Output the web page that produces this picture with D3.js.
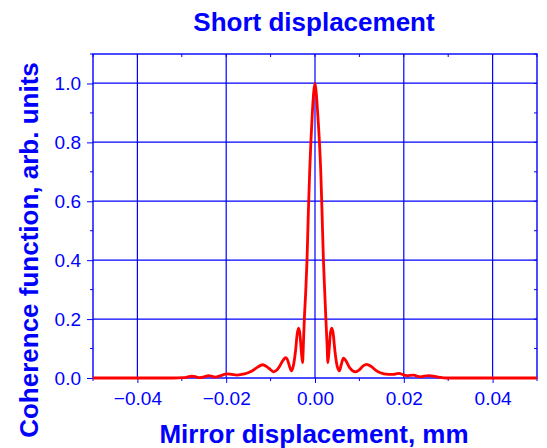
<!DOCTYPE html>
<html>
<head>
<meta charset="utf-8">
<script src="https://cdn.jsdelivr.net/npm/d3@7"></script>
<style>
body { margin: 0; background: #fff; }
text { font-family: Arial, "Liberation Sans", sans-serif; }
</style>
</head>
<body>
<div id="chart"></div>
<script>
// mirror displacement (mm) and coherence
var displacement = [
    -0.050, -0.040, -0.0320, -0.0297, -0.0288, -0.0278, -0.0268, -0.0259, -0.0250, -0.0240,
    -0.0233, -0.0225, -0.0212, -0.0199, -0.0188, -0.0176, -0.0165, -0.0154, -0.0142, -0.0130,
    -0.0118, -0.0108, -0.0100, -0.0093, -0.0082, -0.0072, -0.0066, -0.0061, -0.0057, -0.0053,
    -0.0049, -0.0044, -0.0040, -0.0037, -0.0034, -0.0031, -0.0028, -0.0026, -0.0024, -0.0021,
    -0.0018, -0.0015, -0.0012, -0.0009, -0.0006, -0.0003, 0.0000, 0.0003, 0.0006, 0.0010,
    0.0013, 0.00155, 0.0019, 0.0022, 0.00245, 0.0027, 0.0029, 0.0032, 0.0035, 0.0038,
    0.0041, 0.0045, 0.0050, 0.0055, 0.0059, 0.0064, 0.0069, 0.0078, 0.0091, 0.0100,
    0.0108, 0.0116, 0.0126, 0.0138, 0.0147, 0.0165, 0.0176, 0.0188, 0.0207, 0.0222,
    0.0237, 0.0256, 0.0278, 0.0295, 0.0320, 0.040, 0.050
]
var coherence = [
    0.000, 0.000, 0.000, 0.001, 0.003, 0.006, 0.004, 0.001, 0.004, 0.008,
    0.006, 0.003, 0.008, 0.014, 0.012, 0.010, 0.012, 0.016, 0.024, 0.036,
    0.045, 0.038, 0.028, 0.021, 0.034, 0.060, 0.069, 0.058, 0.038, 0.024,
    0.040, 0.090, 0.150, 0.169, 0.150, 0.095, 0.052, 0.120, 0.200, 0.290,
    0.400, 0.560, 0.700, 0.810, 0.900, 0.970, 1.000, 0.965, 0.900, 0.800,
    0.700, 0.580, 0.400, 0.290, 0.200, 0.120, 0.052, 0.100, 0.155, 0.169,
    0.150, 0.090, 0.040, 0.024, 0.045, 0.067, 0.060, 0.035, 0.021, 0.028,
    0.040, 0.046, 0.040, 0.025, 0.018, 0.0125, 0.012, 0.016, 0.008, 0.010,
    0.004, 0.008, 0.003, 0.000, 0.000, 0.000, 0.000
]
var xTicks = [-0.04, -0.02, 0, 0.02, 0.04]
var xMinor = [-0.05, -0.03, -0.01, 0.01, 0.03, 0.05]
var yTicks = [0, 0.2, 0.4, 0.6, 0.8, 1.0]
var yMinor = [0.1, 0.3, 0.5, 0.7, 0.9, 1.1]

var width = 547, height = 448
var margin = {top: 54, right: 10, bottom: 70, left: 93}
var blue = "#0000ff"

var svg = d3.select("#chart")
    .append("svg")
    .attr("width", width)
    .attr("height", height)

var x = d3.scaleLinear()
    .domain([-0.05, 0.05])
    .range([margin.left, width - margin.right])

var y = d3.scaleLinear()
    .domain([0, 1.1])
    .range([height - margin.bottom, margin.top])

var x0 = x.range()[0], x1 = x.range()[1]
var y0 = y.range()[0], y1 = y.range()[1]

// grid
var grid = svg.append("g")
grid.selectAll(".vg")
    .data(xTicks)
    .enter().append("line")
    .attr("x1", d => x(d))
    .attr("x2", d => x(d))
    .attr("y1", y1)
    .attr("y2", y0)
    .style("stroke", blue)
    .style("stroke-width", 1.2)
grid.selectAll(".hg")
    .data(yTicks.slice(1))
    .enter().append("line")
    .attr("y1", d => Math.round(y(d)) + 0.2)
    .attr("y2", d => Math.round(y(d)) + 0.2)
    .attr("x1", x0)
    .attr("x2", x1)
    .style("stroke", blue)
    .style("stroke-width", 1.2)

// axes
var xAxis = svg.append("g")
    .attr("transform", `translate(0,${y0})`)
    .call(d3.axisBottom(x).tickValues(xTicks).tickSize(5).tickPadding(9).tickFormat(d3.format(".2f")))
var yAxis = svg.append("g")
    .attr("transform", `translate(${x0},0)`)
    .call(d3.axisLeft(y).tickValues(yTicks).tickSize(6).tickPadding(6).tickFormat(d3.format(".1f")))

;[xAxis, yAxis].forEach(a => {
    a.select(".domain").remove()
    a.selectAll("line").style("stroke", blue)
    a.selectAll("text")
        .attr("fill", blue)
        .style("font-size", "19px")
})

// minor ticks: bottom / left outward, top / right inward
var minor = svg.append("g")
minor.selectAll(".mb").data(xMinor).enter().append("line")
    .attr("x1", d => x(d)).attr("x2", d => x(d))
    .attr("y1", y0).attr("y2", y0 + 3)
minor.selectAll(".mt").data(xMinor.concat(xTicks)).enter().append("line")
    .attr("x1", d => x(d)).attr("x2", d => x(d))
    .attr("y1", y1).attr("y2", y1 + 3)
minor.selectAll(".ml").data(yMinor).enter().append("line")
    .attr("y1", d => y(d)).attr("y2", d => y(d))
    .attr("x1", x0).attr("x2", x0 - 3)
minor.selectAll(".mr").data(yMinor.concat(yTicks)).enter().append("line")
    .attr("y1", d => y(d)).attr("y2", d => y(d))
    .attr("x1", x1).attr("x2", x1 - 3)
minor.selectAll("line").style("stroke", blue).style("stroke-width", 1)

// frame
svg.append("rect")
    .attr("x", x0)
    .attr("y", y1)
    .attr("width", x1 - x0)
    .attr("height", y0 - y1)
    .attr("fill", "none")
    .style("stroke", blue)
    .style("stroke-width", 1.4)

// curve
var points = displacement.map((d, i) => [d, coherence[i]])
var line = d3.line()
    .x(d => x(d[0]))
    .y(d => y(d[1]))
    .curve(d3.curveMonotoneX)

svg.append("path")
    .datum(points)
    .attr("d", line)
    .attr("fill", "none")
    .attr("stroke", "#ff0000")
    .attr("stroke-width", 2.8)
    .attr("stroke-linejoin", "round")

// titles
svg.append("text")
    .attr("x", 314)
    .attr("y", 31)
    .attr("text-anchor", "middle")
    .attr("fill", blue)
    .style("font-size", "26px")
    .style("font-weight", "bold")
    .text("Short displacement")

svg.append("text")
    .attr("x", 314)
    .attr("y", 443)
    .attr("text-anchor", "middle")
    .attr("fill", blue)
    .style("font-size", "26px")
    .style("font-weight", "bold")
    .text("Mirror displacement, mm")

svg.append("text")
    .attr("transform", "translate(38,250) rotate(-90)")
    .attr("text-anchor", "middle")
    .attr("fill", blue)
    .style("font-size", "26px")
    .style("font-weight", "bold")
    .text("Coherence function, arb. units")
</script>
</body>
</html>
